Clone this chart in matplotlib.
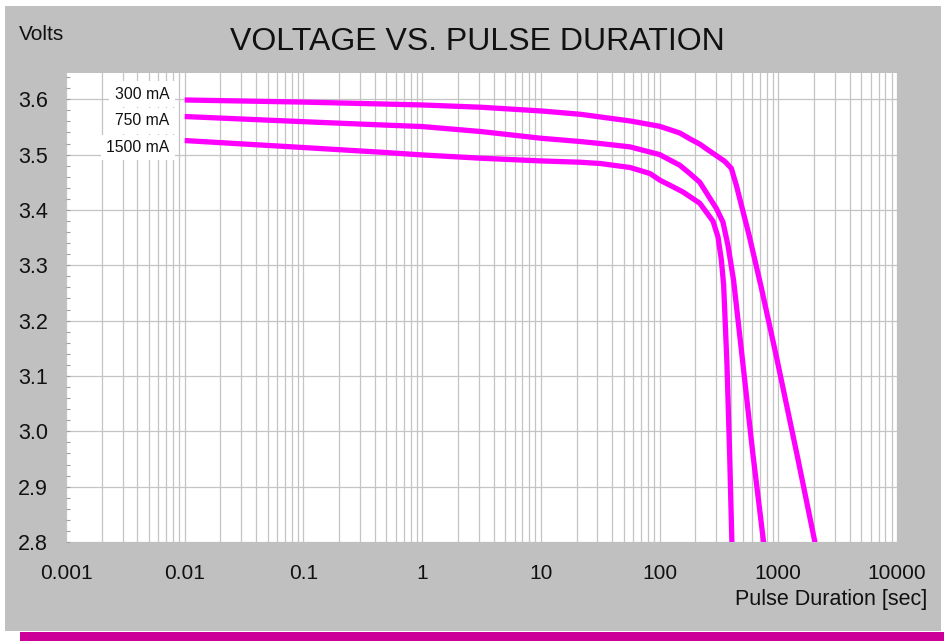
import matplotlib
matplotlib.use('Agg')
import matplotlib.pyplot as plt
from matplotlib.patches import Rectangle
from matplotlib.ticker import FixedLocator, LogLocator, MultipleLocator, NullFormatter

plt.rcParams['font.family'] = ['Liberation Sans', 'DejaVu Sans']

# ---------------- data ----------------
series_labels = ['300 mA', '750 mA', '1500 mA']

t_300 = [0.01, 0.1, 0.453, 1, 3.12, 10, 21.5, 31.7, 56.5, 100, 148, 180, 218, 250, 297,
         353, 402, 443, 568, 717, 973, 1454, 2047]
v_300 = [3.5987, 3.5949, 3.5915, 3.5897, 3.5856, 3.5789, 3.5729, 3.568, 3.5608, 3.5512,
         3.5391, 3.5285, 3.519, 3.510, 3.499, 3.488, 3.4754, 3.4447, 3.354, 3.261,
         3.131, 2.953, 2.797]

t_750 = [0.01, 0.1, 0.453, 1, 3.12, 10, 21.5, 31.7, 56.5, 100, 148, 180, 218, 301, 342,
         376.5, 420, 503, 610, 754]
v_750 = [3.5688, 3.5595, 3.5536, 3.5507, 3.5417, 3.5296, 3.5236, 3.52, 3.5139, 3.5001,
         3.4808, 3.4658, 3.4501, 3.4026, 3.3779, 3.3363, 3.2732, 3.1227, 2.9602, 2.7977]

t_1500 = [0.01, 0.1, 0.453, 1, 3.12, 10, 21.5, 31.7, 56.5, 83.1, 100.8, 122.3, 157.1,
          218, 281.9, 310.5, 331.6, 346.6, 369.4, 389.1, 406.8]
v_1500 = [3.5254, 3.5128, 3.5043, 3.4994, 3.4935, 3.4886, 3.4862, 3.4839, 3.4767, 3.4658,
          3.4537, 3.4447, 3.4326, 3.4122, 3.3797, 3.3513, 3.3093, 3.2641, 3.1227, 2.9602,
          2.7977]

label_y = [3.609, 3.561, 3.513]
label_x = 0.0074

x_ticks = [0.001, 0.01, 0.1, 1, 10, 100, 1000, 10000]
x_tick_labels = ['0.001', '0.01', '0.1', '1', '10', '100', '1000', '10000']
y_ticks = [2.8, 2.9, 3.0, 3.1, 3.2, 3.3, 3.4, 3.5, 3.6]
y_tick_labels = ['2.8', '2.9', '3.0', '3.1', '3.2', '3.3', '3.4', '3.5', '3.6']

# ---------------- figure ----------------
W, H = 944, 641
fig = plt.figure(figsize=(W / 100, H / 100), dpi=100)
fig.patch.set_facecolor('white')
fig.add_artist(Rectangle((5 / W, 1 - 631 / H), 936 / W, 625 / H, transform=fig.transFigure,
                         facecolor='#c0c0c0', edgecolor='none', zorder=0))
fig.add_artist(Rectangle((20 / W, 0), 924 / W, 9.5 / H, transform=fig.transFigure,
                         facecolor='#cc0099', edgecolor='none', zorder=0))

ax = fig.add_axes([66 / W, 1 - 542 / H, 831 / W, (542 - 72.7) / H])
ax.set_facecolor('white')
ax.set_xscale('log')
ax.set_xlim(0.001, 10000)
ax.set_ylim(2.8, 3.648)

for s in ax.spines.values():
    s.set_visible(False)

ax.xaxis.set_major_locator(FixedLocator(x_ticks))
ax.set_xticks(x_ticks)
ax.set_xticklabels(x_tick_labels)
ax.xaxis.set_minor_locator(LogLocator(base=10, subs=range(2, 10), numticks=50))
ax.xaxis.set_minor_formatter(NullFormatter())
ax.set_yticks(y_ticks)
ax.set_yticklabels(y_tick_labels)
ax.yaxis.set_minor_locator(MultipleLocator(0.02))

ax.tick_params(axis='x', which='both', length=0, pad=16, labelsize=15, colors='#111111')
ax.tick_params(axis='y', which='major', direction='in', length=3, width=0.8, color='#a0a0a0',
               pad=13, labelsize=15.5, labelcolor='#111111')
ax.tick_params(axis='y', which='minor', direction='in', length=3, width=0.8, color='#a0a0a0')

ax.grid(True, which='major', axis='both', color='#c4c4c4', linewidth=0.9)
ax.grid(True, which='minor', axis='x', color='#c4c4c4', linewidth=0.9)
ax.set_axisbelow(True)

for t, v in [(t_300, v_300), (t_750, v_750), (t_1500, v_1500)]:
    ax.plot(t, v, color='#ff00ff', linewidth=3.8, solid_capstyle='butt',
            solid_joinstyle='round', zorder=3)

for lab, yy in zip(series_labels, label_y):
    ax.text(label_x, yy, lab, ha='right', va='center', fontsize=11.3, color='#111111',
            bbox=dict(facecolor='white', edgecolor='none', pad=3.8), zorder=4)

fig.text(477 / W, 1 - 42 / H, 'VOLTAGE VS. PULSE DURATION', ha='center', va='center',
         fontsize=23, color='#111111')
fig.text(19 / W, 1 - 35 / H, 'Volts', ha='left', va='center', fontsize=15, color='#111111')
fig.text(927 / W, 1 - 599 / H, 'Pulse Duration [sec]', ha='right', va='center',
         fontsize=15.5, color='#111111')

fig.savefig('out.png', dpi=100, facecolor=fig.get_facecolor())
